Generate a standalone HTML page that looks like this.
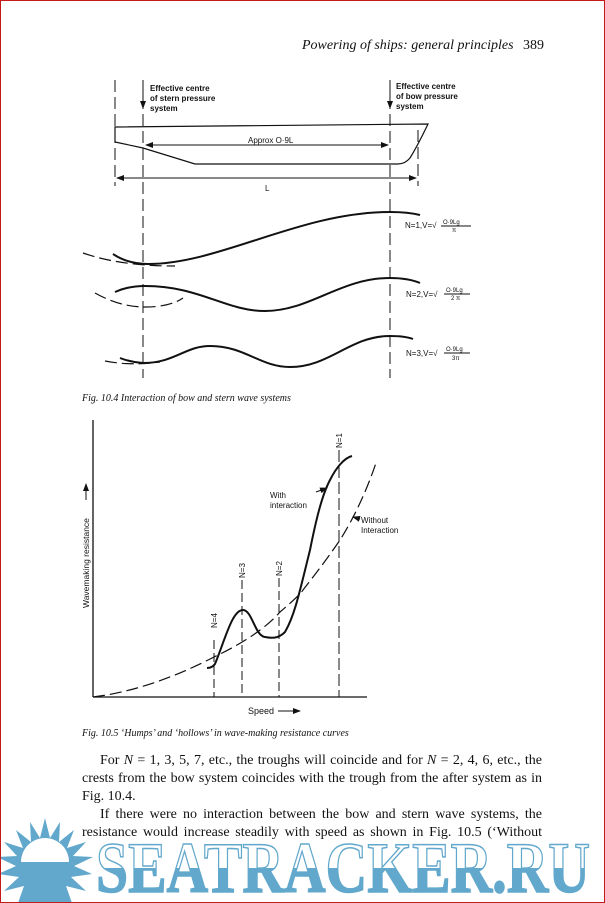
<!DOCTYPE html>
<html><head><meta charset="utf-8"><style>
html,body{margin:0;padding:0;background:#fff}
#p{position:relative;width:605px;height:903px;overflow:hidden;background:#fff}
#b{position:absolute;left:0;top:0;width:603px;height:901px;border:1px solid #c41a1a}
.t{position:absolute;font-family:"Liberation Serif",serif;font-size:14px;color:#111;white-space:nowrap;text-align:justify;text-align-last:justify}
</style></head><body><div id="p">
<svg width="605" height="903" style="position:absolute;left:0;top:0" font-family="Liberation Sans, sans-serif">
<defs>
<marker id="ar" markerWidth="8" markerHeight="6" refX="7" refY="3" orient="auto"><path d="M0,0 L8,3 L0,6z" fill="#111"/></marker>
<marker id="al" markerWidth="8" markerHeight="6" refX="1" refY="3" orient="auto"><path d="M8,0 L0,3 L8,6z" fill="#111"/></marker>
<linearGradient id="wg" x1="0" y1="0" x2="0" y2="1"><stop offset="0.5" stop-color="#fff"/><stop offset="0.5" stop-color="#62a8cc"/></linearGradient>
</defs>
<text x="302" y="49" font-family="Liberation Serif, serif" font-style="italic" font-size="14" fill="#111">Powering of ships: general principles</text>
<text x="523" y="49" font-family="Liberation Serif, serif" font-size="14" fill="#111">389</text>
<g stroke="#111" fill="none" stroke-width="1">
<line x1="115" y1="80" x2="115" y2="186" stroke-dasharray="12,5"/>
<line x1="143" y1="80" x2="143" y2="378" stroke-dasharray="12,5"/>
<line x1="390" y1="80" x2="390" y2="378" stroke-dasharray="12,5"/>
<line x1="418" y1="130" x2="418" y2="186" stroke-dasharray="12,5"/>
<line x1="143" y1="80" x2="143" y2="108" marker-end="url(#ar)"/>
<line x1="390" y1="80" x2="390" y2="108" marker-end="url(#ar)"/>
<path d="M115,127 L428,124 Q418,145 410,158 Q405,164 398,164 L195,164 L143,148 L115,142 Z" stroke-width="1.2"/>
<line x1="146" y1="145" x2="388" y2="145" marker-start="url(#al)" marker-end="url(#ar)"/>
<line x1="117" y1="178" x2="416" y2="178" marker-start="url(#al)" marker-end="url(#ar)"/>
<g stroke-width="2">
<path d="M113,254 Q128,264 148,264 C220,264 300,212 390,212 Q408,212 420,215"/>
<path d="M115,292 Q128,286 145,286 C200,286 225,311 265,311 C310,311 340,278 390,278 Q408,278 420,283"/>
<path d="M120,358 Q130,362 143,363 C175,363 185,346 210,346 C245,346 260,367 290,367 C330,367 350,336 390,336 Q405,336 413,339"/>
<path d="M207,668 Q212,668 215,664 C225,640 232,610 243,610 C252,610 255,636 265,637 C275,639 280,637 285,632 C295,615 300,590 310,550 C316,520 322,495 330,480 C336,468 344,458 352,456"/>
</g>
<g stroke-width="1.2" stroke-dasharray="12,5">
<path d="M83,253 Q120,266 175,266"/>
<path d="M95,293 Q120,307 145,307 Q170,307 183,298"/>
<path d="M105,361 Q130,366 160,362"/>
<path d="M93,697 Q150,690 214,657 Q260,635 280,612 Q300,595 303,590 Q325,562 340,540 Q362,505 377,460"/>
</g>
<line x1="93" y1="420" x2="93" y2="697" stroke-width="1.3"/>
<line x1="93" y1="697" x2="367" y2="697" stroke-width="1.3"/>
<line x1="214" y1="640" x2="214" y2="697" stroke-dasharray="9,4"/>
<line x1="242" y1="580" x2="242" y2="697" stroke-dasharray="9,4"/>
<line x1="279" y1="578" x2="279" y2="697" stroke-dasharray="9,4"/>
<line x1="339" y1="450" x2="339" y2="697" stroke-dasharray="12,4"/>
<line x1="316" y1="492" x2="327" y2="488" marker-end="url(#ar)"/>
<line x1="360" y1="519" x2="353" y2="517" marker-end="url(#ar)"/>
<line x1="86" y1="500" x2="86" y2="484" marker-end="url(#ar)"/>
<line x1="278" y1="711" x2="300" y2="711" marker-end="url(#ar)"/>
</g>
<g font-size="8" font-weight="bold" fill="#111">
<text x="150" y="91">Effective centre</text><text x="150" y="101">of stern pressure</text><text x="150" y="111">system</text>
<text x="396" y="89">Effective centre</text><text x="396" y="99">of bow pressure</text><text x="396" y="109">system</text>
</g>
<g font-size="8" fill="#111">
<text x="248" y="143">Approx O·9L</text>
<text x="265" y="191">L</text>
<text x="405" y="228">N=1,V=√</text><text x="443" y="224" font-size="6">O·9Lg</text><line x1="441" y1="226" x2="471" y2="226" stroke="#111"/><text x="452" y="232" font-size="6">π</text>
<text x="406" y="297">N=2,V=√</text><text x="446" y="292" font-size="6">O·9Lg</text><line x1="444" y1="294" x2="470" y2="294" stroke="#111"/><text x="451" y="300" font-size="6">2 π</text>
<text x="406" y="356">N=3,V=√</text><text x="446" y="351" font-size="6">O·9Lg</text><line x1="444" y1="353" x2="470" y2="353" stroke="#111"/><text x="452" y="360" font-size="6">3π</text>
<text x="270" y="498">With</text><text x="270" y="508">interaction</text>
<text x="361" y="523">Without</text><text x="361" y="533">Interaction</text>
<text x="248" y="714" font-size="9">Speed</text>
<text transform="translate(89,608) rotate(-90)" font-size="8.5">Wavemaking resistance</text>
<text transform="translate(217,628) rotate(-90)">N=4</text>
<text transform="translate(245,578) rotate(-90)">N=3</text>
<text transform="translate(282,576) rotate(-90)">N=2</text>
<text transform="translate(342,448) rotate(-90)">N=1</text>
</g>
<text x="82" y="401" font-family="Liberation Serif, serif" font-style="italic" font-size="10" fill="#111">Fig. 10.4  Interaction of bow and stern wave systems</text>
<text x="82" y="736" font-family="Liberation Serif, serif" font-style="italic" font-size="10" fill="#111">Fig. 10.5  ‘Humps’ and ‘hollows’ in wave-making resistance curves</text>
<g fill="#62a8cc">
<polygon points="45,818 50,838 60,822 59,842 74,830 67,848 86,842 73,856 93,857 74,866 92,874 71,877 86,891 66,886 72,903 18,903 24,886 4,891 19,877 -2,874 16,866 -3,857 17,856 4,842 23,848 16,830 31,842 30,822 40,838"/>
</g>
<path d="M21,862 A24,24 0 0 1 69,862 Z" fill="#fff"/>
<text x="96" y="892" font-family="Liberation Serif, serif" font-weight="bold" font-size="72" textLength="494" lengthAdjust="spacingAndGlyphs" fill="url(#wg)" stroke="#62a8cc" stroke-width="1.5">SEATRACKER.RU</text>
</svg>
<div class="t" style="left:100px;top:753px;width:442px">For <i>N</i> = 1, 3, 5, 7, etc., the troughs will coincide and for <i>N</i> = 2, 4, 6, etc., the</div>
<div class="t" style="left:82px;top:771px;width:460px">crests from the bow system coincides with the trough from the after system as in</div>
<div class="t" style="left:82px;top:789px;text-align-last:left">Fig. 10.4.</div>
<div class="t" style="left:100px;top:807px;width:442px">If there were no interaction between the bow and stern wave systems, the</div>
<div class="t" style="left:82px;top:825px;width:460px">resistance would increase steadily with speed as shown in Fig. 10.5 (‘Without</div>
<div id="b"></div>
</div></body></html>
